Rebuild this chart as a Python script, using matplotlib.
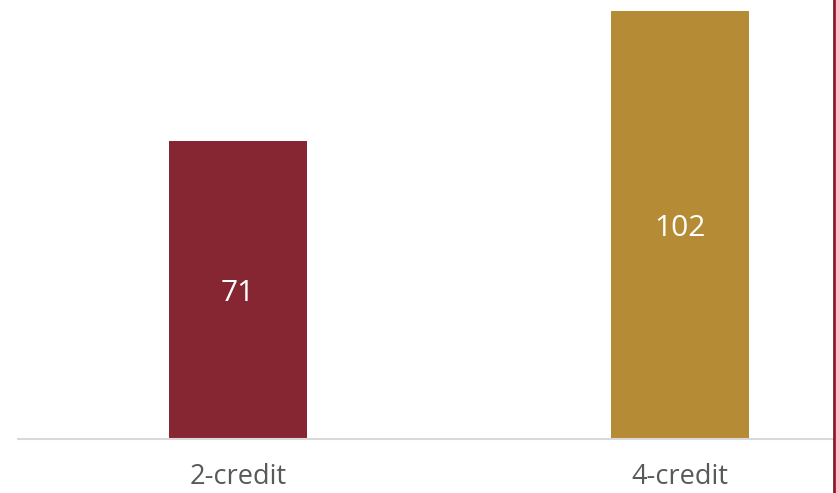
import matplotlib.pyplot as plt

categories = ["2-credit", "4-credit"]
values = [71, 102]
colors = ["#862633", "#B58B35"]

W, H = 837, 493
fig = plt.figure(figsize=(W / 100, H / 100), dpi=100)
ax = fig.add_axes([18 / W, 1 - 439 / H, (833 - 18) / W, 439 / H])

x = range(len(categories))
bars = ax.bar(x, values, width=0.312, color=colors)

for b, v in zip(bars, values):
    ax.text(b.get_x() + b.get_width() / 2, v / 2, str(v), ha="center", va="center_baseline",
            color="white", fontsize=21.5, family="Open Sans")

ax.set_xlim(-0.498, 1.346)
ax.set_ylim(0, 104.5)
ax.set_xticks(list(x))
ax.set_xticklabels(categories, fontsize=19.5, color="#595959", family="Open Sans")
ax.tick_params(axis="x", length=0, pad=17)
ax.set_yticks([])
for s in ["top", "left", "right"]:
    ax.spines[s].set_visible(False)
ax.spines["bottom"].set_color("#D9D9D9")
ax.spines["bottom"].set_linewidth(1.5)

# dark red vertical rule on the right edge
fig.add_artist(plt.Line2D([834 / W, 834 / W], [0, 1], color="#8B1A2B", linewidth=2))

fig.savefig("out.png", dpi=100)
